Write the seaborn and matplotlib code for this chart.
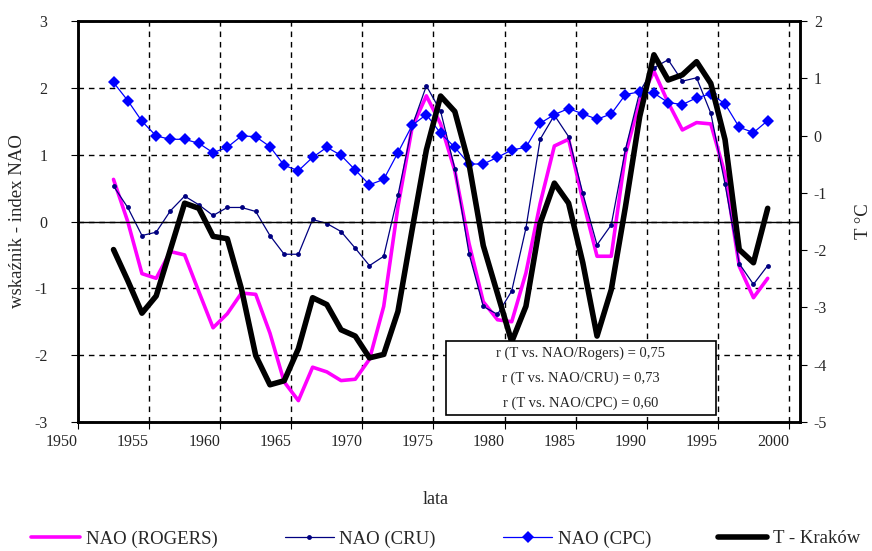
import numpy as np
import pandas as pd
import matplotlib
matplotlib.use("Agg")
import matplotlib.pyplot as plt
import seaborn as sns
from matplotlib.patches import Rectangle

# data (annual values 1952-1998)
years = list(range(1952, 1999))

nao_rogers = [0.63, 0.00, -0.78, -0.85, -0.45, -0.50, -1.05, -1.59, -1.38, -1.07,
              -1.09, -1.67, -2.40, -2.68, -2.18, -2.25, -2.38, -2.36, -2.06, -1.27,
              0.22, 1.41, 1.88, 1.46, 0.76, -0.33, -1.20, -1.47, -1.50, -0.77,
              0.27, 1.13, 1.23, 0.32, -0.52, -0.52, 1.01, 1.80, 2.25, 1.78,
              1.37, 1.48, 1.46, 0.71, -0.67, -1.14, -0.85]

nao_cru = [0.53, 0.21, -0.21, -0.16, 0.16, 0.38, 0.25, 0.09, 0.21, 0.21,
           0.15, -0.21, -0.49, -0.49, 0.03, -0.03, -0.15, -0.40, -0.66, -0.52,
           0.39, 1.43, 2.03, 1.65, 0.79, -0.48, -1.27, -1.39, -1.04, -0.10,
           1.23, 1.59, 1.27, 0.42, -0.35, -0.05, 1.08, 1.94, 2.30, 2.42,
           2.10, 2.15, 1.62, 0.56, -0.63, -0.94, -0.66]

nao_cpc = [2.08, 1.81, 1.50, 1.28, 1.23, 1.23, 1.17, 1.03, 1.11, 1.28,
           1.27, 1.12, 0.84, 0.76, 0.96, 1.11, 0.99, 0.77, 0.55, 0.63,
           1.03, 1.44, 1.60, 1.32, 1.11, 0.86, 0.86, 0.96, 1.07, 1.11,
           1.47, 1.60, 1.69, 1.61, 1.53, 1.61, 1.90, 1.94, 1.92, 1.78,
           1.75, 1.85, 1.91, 1.76, 1.41, 1.33, 1.51]

t_krakow = [-1.99, -2.53, -3.10, -2.80, -1.99, -1.18, -1.27, -1.76, -1.80, -2.68,
            -3.84, -4.35, -4.28, -3.72, -2.83, -2.95, -3.39, -3.50, -3.88, -3.82,
            -3.07, -1.64, -0.25, 0.69, 0.42, -0.50, -1.92, -2.76, -3.60, -2.98,
            -1.53, -0.83, -1.18, -2.22, -3.50, -2.69, -1.24, 0.33, 1.41, 0.97,
            1.06, 1.29, 0.91, -0.07, -1.99, -2.22, -1.27]

corr_lines = ["r (T vs. NAO/Rogers) = 0,75",
              "r (T vs. NAO/CRU) = 0,73",
              "r (T vs. NAO/CPC) = 0,60"]

df = pd.DataFrame({"rok": years, "rogers": nao_rogers, "cru": nao_cru,
                   "cpc": nao_cpc, "t": t_krakow})
df["x"] = df["rok"] + 0.5   # values plotted mid-year

sns.set_style("ticks")
plt.rcParams["font.family"] = ["Liberation Serif", "DejaVu Serif"]
plt.rcParams["axes.unicode_minus"] = False

fig = plt.figure(figsize=(8.72, 5.51), dpi=100)
ax = fig.add_axes([0.0894, 0.2341, 0.8280, 0.7278])

sns.lineplot(data=df, x="x", y="rogers", ax=ax, color="#FF00FF", lw=2.6,
             label="NAO (ROGERS)", legend=False)
sns.lineplot(data=df, x="x", y="cru", ax=ax, color="#000080", lw=0.9,
             marker="o", markersize=3.5, markeredgewidth=0,
             label="NAO (CRU)", legend=False)
sns.lineplot(data=df, x="x", y="cpc", ax=ax, color="#0000FF", lw=0.9,
             marker="D", markersize=6.5, markeredgewidth=0,
             label="NAO (CPC)", legend=False)

ax.set_xlim(1950, 2000.77)
ax.set_ylim(-3, 3)
ax.set_xticks(range(1950, 2001, 5))
ax.set_yticks(range(-3, 4))
ax.set_xticklabels([str(y) for y in range(1950, 2001, 5)], ha="right")
ax.grid(True, ls=(0, (4, 3.5)), color="black", lw=1)
ax.axhline(0, color="black", lw=1)
ax.set_xlabel("")
ax.set_ylabel("wskaźnik - index NAO", fontsize=13.5, labelpad=6)
ax.tick_params(direction="out", length=5, labelsize=11.5, color="black")
ax.tick_params(axis="y", pad=17)
for s in ax.spines.values():
    s.set_linewidth(1.8)
    s.set_color("black")

ax2 = ax.twinx()
sns.lineplot(data=df, x="x", y="t", ax=ax2, color="black", lw=4,
             label="T - Kraków", legend=False)
ax2.set_ylim(-5, 2)
ax2.set_yticks(range(-5, 3))
ax2.set_ylabel("T °C", fontsize=13.5, labelpad=20)
ax2.tick_params(direction="out", length=5, labelsize=11.5, color="black", pad=5)
for s in ax2.spines.values():
    s.set_linewidth(1.8)
    s.set_color("black")

# correlation box
ax2.add_patch(Rectangle((0.5097, 0.0175), 0.374, 0.185, transform=ax2.transAxes,
                        facecolor="white", edgecolor="black", lw=1.2, zorder=10))
for i, line in enumerate(corr_lines):
    ax2.text(0.6967, 0.172 - i * 0.0625, line, transform=ax2.transAxes,
             ha="center", va="center", fontsize=10.5, zorder=11)

fig.text(0.5, 0.093, "lata", ha="center", va="center", fontsize=13)

h1, l1 = ax.get_legend_handles_labels()
h2, l2 = ax2.get_legend_handles_labels()
fig.legend(h1 + h2, l1 + l2, loc="center", bbox_to_anchor=(0.511, 0.022),
           ncol=4, frameon=False, fontsize=13.5, handlelength=2.6,
           columnspacing=3.6, handletextpad=0.3)

fig.savefig("out.png", dpi=100)
